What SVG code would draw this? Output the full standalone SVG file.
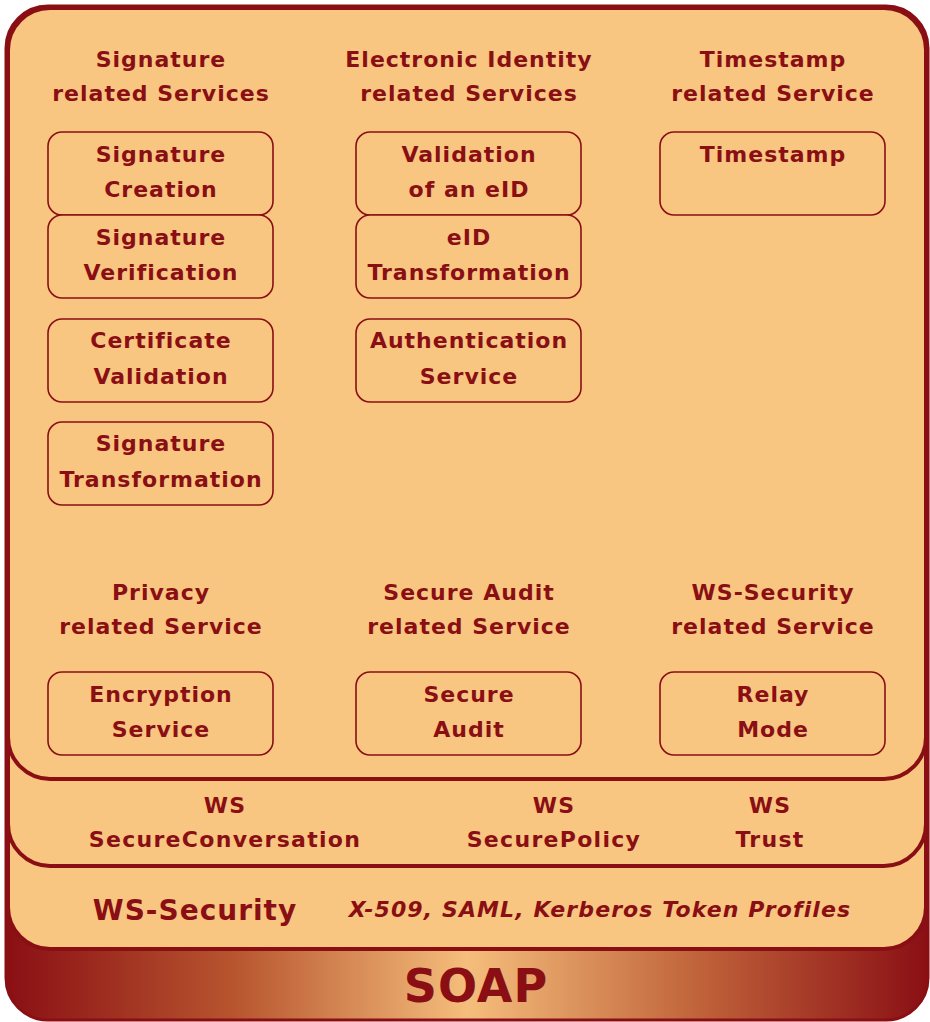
<svg xmlns="http://www.w3.org/2000/svg" width="930" height="1022" viewBox="0 0 930 1022">
<defs>
<linearGradient id="soapGrad" x1="0" y1="0" x2="1" y2="0">
<stop offset="0" stop-color="#8A0F14"/>
<stop offset="0.25" stop-color="#B8562F"/>
<stop offset="0.5" stop-color="#F5BE7C"/>
<stop offset="0.75" stop-color="#C0633A"/>
<stop offset="1" stop-color="#8A0F14"/>
</linearGradient>
<style>
.layer{fill:#F9C681;stroke:#8A0F14;stroke-width:4}
.box{fill:#F9C681;stroke:#8A0F14;stroke-width:1.6}
text{font-family:"DejaVu Sans",sans-serif;font-weight:bold;fill:#8A0F14;text-anchor:middle}
.t{font-size:22px;letter-spacing:1px}
.wide{font-size:22px;letter-spacing:1.3px}
.big{font-size:28px;letter-spacing:1px}
.it{font-size:22px;font-style:italic;letter-spacing:1.1px}
.soap{font-size:46px;letter-spacing:1px}
</style>
</defs>
<g id="soap-layer">
<rect x="6" y="6" width="922" height="1014" rx="42" fill="url(#soapGrad)" stroke="#8A0F14" stroke-width="3"/>
<text class="soap" x="476" y="1002">SOAP</text>
</g>
<g id="ws-security-layer">
<rect class="layer" x="8" y="8" width="918" height="941" rx="42"/>
<text class="big" x="195" y="920">WS-Security</text>
<text class="it" x="600" y="917">X-509, SAML, Kerberos Token Profiles</text>
</g>
<g id="ws-layer">
<rect class="layer" x="8" y="8" width="918" height="858" rx="42"/>
<text class="wide" x="225" y="813">WS</text>
<text class="wide" x="225" y="847">SecureConversation</text>
<text class="wide" x="554" y="813">WS</text>
<text class="wide" x="554" y="847">SecurePolicy</text>
<text class="wide" x="770" y="813">WS</text>
<text class="wide" x="770" y="847">Trust</text>
</g>
<g id="services-layer">
<rect class="layer" x="8" y="8" width="918" height="771" rx="42"/>
</g>
<g id="headers">
<text class="t" x="161" y="67">Signature</text>
<text class="t" x="161" y="101">related Services</text>
<text class="t" x="469" y="67">Electronic Identity</text>
<text class="t" x="469" y="101">related Services</text>
<text class="t" x="773" y="67">Timestamp</text>
<text class="t" x="773" y="101">related Service</text>
<text class="t" x="161" y="600">Privacy</text>
<text class="t" x="161" y="634">related Service</text>
<text class="t" x="469" y="600">Secure Audit</text>
<text class="t" x="469" y="634">related Service</text>
<text class="t" x="773" y="600">WS-Security</text>
<text class="t" x="773" y="634">related Service</text>
</g>
<g id="signature-creation">
<rect class="box" x="48" y="132" width="225" height="83" rx="14"/>
<text class="t" x="161" y="162">Signature</text>
<text class="t" x="161" y="197">Creation</text>
</g>
<g id="signature-verification">
<rect class="box" x="48" y="215" width="225" height="83" rx="14"/>
<text class="t" x="161" y="245">Signature</text>
<text class="t" x="161" y="280">Verification</text>
</g>
<g id="certificate-validation">
<rect class="box" x="48" y="319" width="225" height="83" rx="14"/>
<text class="t" x="161" y="348">Certificate</text>
<text class="t" x="161" y="384">Validation</text>
</g>
<g id="signature-transformation">
<rect class="box" x="48" y="422" width="225" height="83" rx="14"/>
<text class="t" x="161" y="451">Signature</text>
<text class="t" x="161" y="487">Transformation</text>
</g>
<g id="validation-eid">
<rect class="box" x="356" y="132" width="225" height="83" rx="14"/>
<text class="t" x="469" y="162">Validation</text>
<text class="t" x="469" y="197">of an eID</text>
</g>
<g id="eid-transformation">
<rect class="box" x="356" y="215" width="225" height="83" rx="14"/>
<text class="t" x="469" y="245">eID</text>
<text class="t" x="469" y="280">Transformation</text>
</g>
<g id="authentication-service">
<rect class="box" x="356" y="319" width="225" height="83" rx="14"/>
<text class="t" x="469" y="348">Authentication</text>
<text class="t" x="469" y="384">Service</text>
</g>
<g id="timestamp">
<rect class="box" x="660" y="132" width="225" height="83" rx="14"/>
<text class="t" x="773" y="162">Timestamp</text>
</g>
<g id="encryption-service">
<rect class="box" x="48" y="672" width="225" height="83" rx="14"/>
<text class="t" x="161" y="702">Encryption</text>
<text class="t" x="161" y="737">Service</text>
</g>
<g id="secure-audit">
<rect class="box" x="356" y="672" width="225" height="83" rx="14"/>
<text class="t" x="469" y="702">Secure</text>
<text class="t" x="469" y="737">Audit</text>
</g>
<g id="relay-mode">
<rect class="box" x="660" y="672" width="225" height="83" rx="14"/>
<text class="t" x="773" y="702">Relay</text>
<text class="t" x="773" y="737">Mode</text>
</g>
<g id="connectors"/>
</svg>
